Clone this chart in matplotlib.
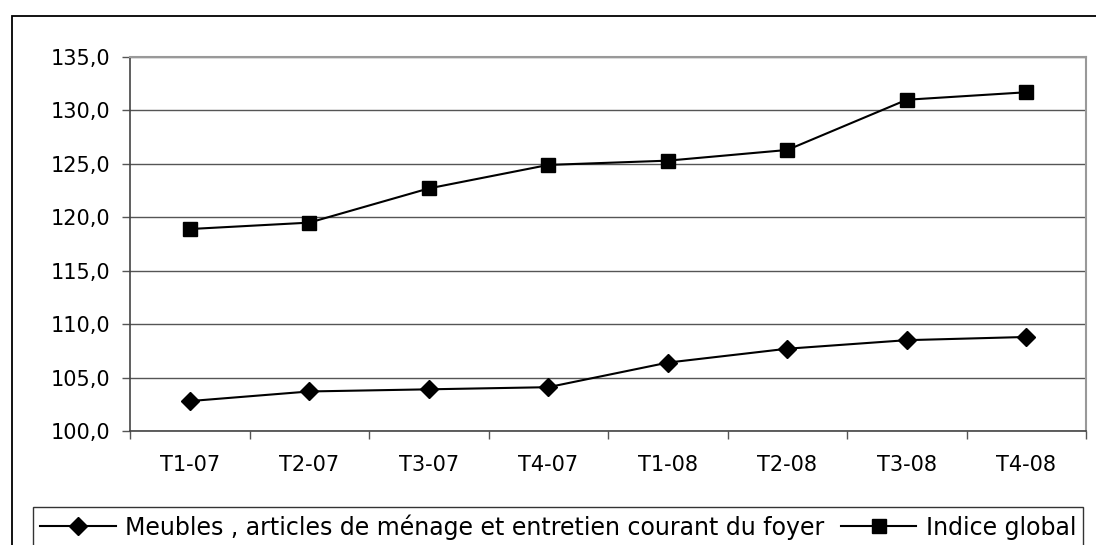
import matplotlib
matplotlib.use("Agg")
import matplotlib.pyplot as plt
from matplotlib.patches import Rectangle
from matplotlib.ticker import FuncFormatter, MultipleLocator, FixedLocator

plt.rcParams['font.family'] = ['DejaVu Sans']

categories = ["T1-07", "T2-07", "T3-07", "T4-07", "T1-08", "T2-08", "T3-08", "T4-08"]
meubles = [102.8, 103.7, 103.9, 104.1, 106.4, 107.7, 108.5, 108.8]
indice_global = [118.9, 119.5, 122.7, 124.9, 125.3, 126.3, 131.0, 131.7]
label_meubles = "Meubles , articles de ménage et entretien courant du foyer"
label_global = "Indice global"

W, H = 1096, 545
fig = plt.figure(figsize=(W / 100, H / 100), dpi=100)

# outer chart frame
fig.patches.append(Rectangle((12 / W, -0.1), 1.2, 1 - 16 / H + 0.1, transform=fig.transFigure,
                             fill=False, edgecolor='black', linewidth=1.3))

ax = fig.add_axes([130 / W, 1 - 431 / H, (1086 - 130) / W, (431 - 57) / H])
x = list(range(len(categories)))
ax.plot(x, meubles, color='black', linewidth=1.5, marker='D', markersize=9, label=label_meubles)
ax.plot(x, indice_global, color='black', linewidth=1.5, marker='s', markersize=10, label=label_global)

ax.set_xlim(-0.5, len(categories) - 0.5)
ax.set_ylim(100, 135)
ax.yaxis.set_major_locator(MultipleLocator(5))
ax.yaxis.set_major_formatter(FuncFormatter(lambda v, p: f"{v:.1f}".replace('.', ',')))
ax.grid(axis='y', color='#555555', linewidth=1)
ax.set_axisbelow(True)

ax.set_xticks(x)
ax.set_xticklabels(categories)
ax.xaxis.set_minor_locator(FixedLocator([i - 0.5 for i in range(len(categories) + 1)]))
ax.tick_params(axis='x', which='major', length=0, pad=17, labelsize=15)
ax.tick_params(axis='x', which='minor', length=6, width=1, color='#555555', direction='out')
ax.tick_params(axis='y', length=6, width=1, color='#555555', direction='out', labelsize=15, pad=8)

for s in ['top', 'right']:
    ax.spines[s].set_color('#999999')
    ax.spines[s].set_linewidth(1.5)
for s in ['left', 'bottom']:
    ax.spines[s].set_color('#444444')
    ax.spines[s].set_linewidth(1.2)

leg = fig.legend(loc='upper left', bbox_to_anchor=(33 / W, 1 - 507 / H), ncol=2,
                 frameon=True, fancybox=False, edgecolor='black', fontsize=17,
                 handlelength=3.2, columnspacing=0.7, handletextpad=0.4,
                 borderpad=0.3, borderaxespad=0)
leg.get_frame().set_linewidth(1.0)

fig.savefig("out.png", dpi=100)
